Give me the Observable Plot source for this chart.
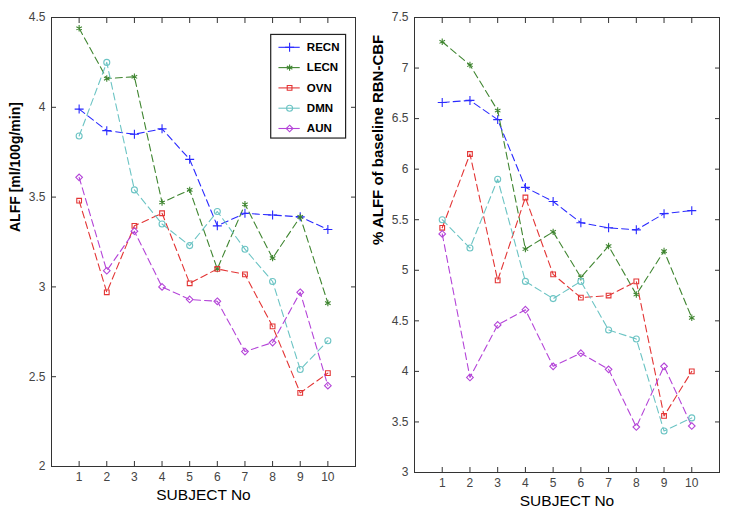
<!DOCTYPE html>
<html>
<head>
<meta charset="utf-8">
<script src="https://cdn.jsdelivr.net/npm/d3@7"></script>
<script src="https://cdn.jsdelivr.net/npm/@observablehq/plot@0.6"></script>
<style>
  html, body { margin: 0; padding: 0; background: #fff; }
  #wrap { position: relative; width: 731px; height: 517px; overflow: hidden; }
  #left, #right { position: absolute; top: 0; }
  #left { left: 0; }
  #right { left: 365px; }
</style>
</head>
<body>
<div id="wrap"><div id="left"></div><div id="right"></div></div>
<script>
const subjects = [1, 2, 3, 4, 5, 6, 7, 8, 9, 10];
const seriesNames = ["RECN", "LECN", "OVN", "DMN", "AUN"];
const seriesColors = ["#2a2aff", "#3f8530", "#e33535", "#6cc4c4", "#b444d8"];
const seriesSymbols = ["plus", "asterisk", "square2", "circle", "diamond2"];

// Left panel: ALFF [ml/100g/min]
const leftRECN = [3.99, 3.87, 3.85, 3.88, 3.71, 3.34, 3.41, 3.40, 3.39, 3.32];
const leftLECN = [4.44, 4.16, 4.17, 3.47, 3.54, 3.10, 3.46, 3.16, 3.39, 2.91];
const leftOVN  = [3.48, 2.97, 3.34, 3.41, 3.02, 3.10, 3.07, 2.78, 2.41, 2.52];
const leftDMN  = [3.84, 4.25, 3.54, 3.35, 3.23, 3.42, 3.21, 3.03, 2.54, 2.70];
const leftAUN  = [3.61, 3.09, 3.31, 3.00, 2.93, 2.92, 2.64, 2.69, 2.97, 2.45];

// Right panel: % ALFF of baseline RBN-CBF
const rightRECN = [6.66, 6.68, 6.49, 5.82, 5.68, 5.47, 5.42, 5.40, 5.56, 5.59];
const rightLECN = [7.26, 7.03, 6.58, 5.21, 5.38, 4.93, 5.24, 4.76, 5.19, 4.53];
const rightOVN  = [5.42, 6.15, 4.90, 5.72, 4.96, 4.73, 4.75, 4.89, 3.56, 4.00];
const rightDMN  = [5.50, 5.22, 5.90, 4.89, 4.72, 4.89, 4.41, 4.32, 3.41, 3.54];
const rightAUN  = [5.36, 3.94, 4.46, 4.61, 4.05, 4.18, 4.02, 3.45, 4.05, 3.46];

const xTicks = subjects;
const leftYTicks = [2, 2.5, 3, 3.5, 4, 4.5];
const rightYTicks = [3, 3.5, 4, 4.5, 5, 5.5, 6, 6.5, 7, 7.5];

const leftLabel = "ALFF [ml/100g/min]";
const rightLabel = "% ALFF of baseline RBN-CBF";
const xLabel = "SUBJECT No";

function toLong(arrs) {
  const out = [];
  arrs.forEach((arr, i) => arr.forEach((v, j) => out.push({series: seriesNames[i], x: subjects[j], y: v})));
  return out;
}
const leftData = toLong([leftRECN, leftLECN, leftOVN, leftDMN, leftAUN]);
const rightData = toLong([rightRECN, rightLECN, rightOVN, rightDMN, rightAUN]);

const font = "Arial, 'Liberation Sans', sans-serif";

function panel({data, yDomain, yTicks, yLabel, width, marginLeft, marginRight, marginBottom, legend, yLabelDx, yLabelDy, yLabelSize, xLabelDy}) {
  const marks = [
    Plot.frame({stroke: "#333", strokeWidth: 1}),
    Plot.axisX({ticks: xTicks, anchor: "bottom", tickSize: -5, tickPadding: 11, tickFormat: d => String(d), fontSize: 12, fill: "#444", stroke: "#333", label: null}),
    Plot.axisX({ticks: xTicks, anchor: "top", tickSize: -5, tickFormat: () => "", stroke: "#333", label: null}),
    Plot.axisY({ticks: yTicks, anchor: "left", tickSize: -5, tickPadding: 11, tickFormat: d => String(d), fontSize: 12, fill: "#444", stroke: "#333", label: null}),
    Plot.axisY({ticks: yTicks, anchor: "right", tickSize: -5, tickFormat: () => "", stroke: "#333", label: null}),
    Plot.line(data, {x: "x", y: "y", z: "series", stroke: "series", strokeWidth: 1.1, strokeDasharray: "7,4"}),
    Plot.dot(data, {x: "x", y: "y", symbol: "series", stroke: "series", fill: "none", r: 3, strokeWidth: 1.1}),
    Plot.text([yLabel], {frameAnchor: "left", dx: yLabelDx, dy: yLabelDy, rotate: -90, fontSize: yLabelSize, fontWeight: "bold", fill: "#000", fontFamily: font}),
    Plot.text([xLabel], {frameAnchor: "bottom", dy: xLabelDy, fontSize: 15.5, fill: "#000", fontFamily: font})
  ];
  if (legend) {
    const legendData = seriesNames.map((s, i) => ({series: s, i}));
    const ly = d => 4.334 - d.i * 0.113;
    marks.push(
      Plot.rect([0], {x1: 7.95, x2: 10.66, y1: 4.403, y2: 3.826, fill: "white", stroke: "#222", strokeWidth: 1.2}),
      Plot.ruleY(legendData, {x1: 8.23, x2: 9.0, y: ly, stroke: "series", strokeWidth: 1.1}),
      Plot.dot(legendData, {x: 8.615, y: ly, symbol: "series", stroke: "series", fill: "none", r: 3, strokeWidth: 1.1}),
      Plot.text(legendData, {x: 9.24, y: ly, text: "series", textAnchor: "start", fontSize: 11.5, fontWeight: "bold", fill: "#000", fontFamily: font})
    );
  }
  return Plot.plot({
    width, height: 517,
    marginLeft, marginRight, marginTop: 17, marginBottom,
    style: {fontFamily: font, background: "white", overflow: "visible"},
    x: {domain: [0, 11]},
    y: {domain: yDomain},
    color: {domain: seriesNames, range: seriesColors},
    symbol: {domain: seriesNames, range: seriesSymbols},
    marks
  });
}

document.getElementById("left").appendChild(panel({
  data: leftData, yDomain: [2, 4.5], yTicks: leftYTicks, yLabel: leftLabel,
  width: 365, marginLeft: 51, marginRight: 10, marginBottom: 51, legend: true,
  yLabelDx: -36, yLabelDy: -10, yLabelSize: 14, xLabelDy: 33
}));
document.getElementById("right").appendChild(panel({
  data: rightData, yDomain: [3, 7.5], yTicks: rightYTicks, yLabel: rightLabel,
  width: 366, marginLeft: 49, marginRight: 12, marginBottom: 45, legend: false,
  yLabelDx: -36, yLabelDy: 0, yLabelSize: 15, xLabelDy: 33
}));
</script>
</body>
</html>
